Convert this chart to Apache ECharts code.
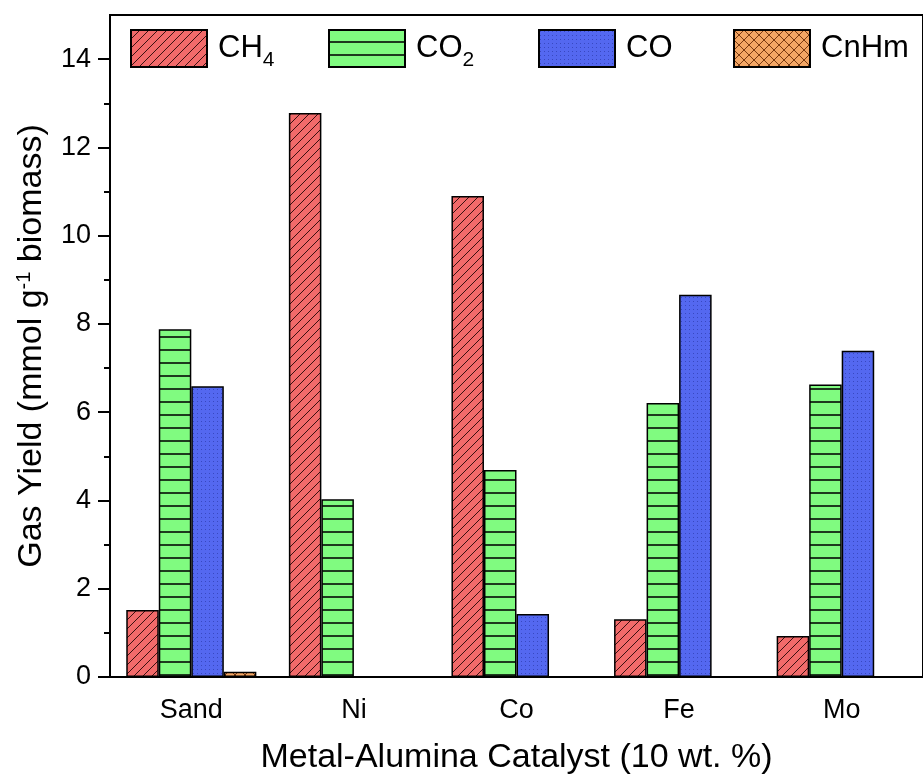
<!DOCTYPE html>
<html>
<head>
<meta charset="utf-8">
<script src="https://cdn.jsdelivr.net/npm/echarts@6/dist/echarts.min.js"></script>
<style>
html,body{margin:0;padding:0;background:#fff;}
#chart{width:923px;height:780px;}
</style>
</head>
<body>
<div id="chart"></div>
<script>
// ---- data ----
var categories = ['Sand', 'Ni', 'Co', 'Fe', 'Mo'];
var seriesNames = ['CH4', 'CO2', 'CO', 'CnHm'];
var ch4 = [1.52, 12.78, 10.9, 1.31, 0.93];
var co2 = [7.88, 4.03, 4.69, 6.21, 6.63];
var co = [6.59, 0, 1.43, 8.66, 7.39];
var cnhm = [0.12, 0, 0, 0, 0];
var yMajorTicks = [0, 2, 4, 6, 8, 10, 12, 14];
var yMinorTicks = [1, 3, 5, 7, 9, 11, 13];

var FONT = 'Liberation Sans, Arial, sans-serif';

function makePattern(w, h, draw) {
  var c = document.createElement('canvas');
  c.width = w; c.height = h;
  var ctx = c.getContext('2d');
  draw(ctx, w, h);
  return { image: c, repeat: 'repeat' };
}

var patCH4 = makePattern(9, 9, function (ctx, w, h) {
  ctx.fillStyle = '#f26a6a'; ctx.fillRect(0, 0, w, h);
  ctx.strokeStyle = '#3a1010'; ctx.lineWidth = 1;
  ctx.beginPath();
  ctx.moveTo(-1, h + 1); ctx.lineTo(w + 1, -1);
  ctx.moveTo(-1 - w, h + 1); ctx.lineTo(1, -1);
  ctx.moveTo(w - 1, 2 * h + 1); ctx.lineTo(2 * w + 1, h - 1);
  ctx.stroke();
});
var patCO2 = makePattern(4, 13, function (ctx, w, h) {
  ctx.fillStyle = '#80fb80'; ctx.fillRect(0, 0, w, h);
  ctx.fillStyle = '#1e3a1e'; ctx.fillRect(0, h - 2, w, 2);
});
var patCO = makePattern(4, 4, function (ctx, w, h) {
  ctx.fillStyle = '#5468f0'; ctx.fillRect(0, 0, w, h);
  ctx.fillStyle = '#3848c0'; ctx.fillRect(1, 1, 1, 1);
});
var patCnHm = makePattern(10, 10, function (ctx, w, h) {
  ctx.fillStyle = '#f3a664'; ctx.fillRect(0, 0, w, h);
  ctx.strokeStyle = '#7a3a10'; ctx.lineWidth = 1;
  ctx.beginPath();
  ctx.moveTo(0, 0); ctx.lineTo(w, h);
  ctx.moveTo(0, h); ctx.lineTo(w, 0);
  ctx.stroke();
});

var patterns = [patCH4, patCO2, patCO, patCnHm];
var values = [ch4, co2, co, cnhm];
var legendLefts = [130, 328, 538, 733];
var legendLabels = {
  'CH4': '{n|CH}{s|4}',
  'CO2': '{n|CO}{s|2}',
  'CO': '{n|CO}',
  'CnHm': '{n|CnHm}'
};

var chart = echarts.init(document.getElementById('chart'));

var legends = seriesNames.map(function (nm, i) {
  return {
    data: [nm],
    left: legendLefts[i],
    top: 29,
    padding: 0,
    icon: 'rect',
    itemWidth: 76,
    itemHeight: 37,
    selectedMode: false,
    formatter: function (name) { return legendLabels[name]; },
    textStyle: {
      color: '#000',
      fontFamily: FONT,
      fontSize: 31,
      padding: [0, 0, 0, 6],
      rich: {
        n: { fontSize: 31, fontFamily: FONT, color: '#000' },
        s: { fontSize: 21, fontFamily: FONT, color: '#000', padding: [24, 0, 0, 0] }
      }
    }
  };
});

var series = seriesNames.map(function (nm, i) {
  return {
    name: nm,
    type: 'bar',
    data: values[i],
    xAxisIndex: 0,
    yAxisIndex: 0,
    barGap: '0%',
    barCategoryGap: '20%',
    itemStyle: {
      color: patterns[i],
      borderColor: '#000',
      borderWidth: 1.5
    },
    emphasis: { disabled: true },
    animation: false
  };
});

var option = {
  backgroundColor: '#fff',
  animation: false,
  legend: legends,
  grid: {
    left: 110, top: 15, width: 820, height: 662,
    show: true, borderColor: '#000', borderWidth: 2,
    containLabel: false
  },
  xAxis: [{
    type: 'category',
    data: categories,
    position: 'bottom',
    boundaryGap: true,
    name: 'Metal-Alumina Catalyst (10 wt. %)',
    nameLocation: 'middle',
    nameGap: 64,
    nameTextStyle: { fontFamily: FONT, fontSize: 34, color: '#000' },
    axisLine: { lineStyle: { color: '#000', width: 2 } },
    axisTick: { alignWithLabel: true, length: 11, lineStyle: { color: '#000', width: 2 } },
    axisLabel: { fontFamily: FONT, fontSize: 27, color: '#000', margin: 20 },
    splitLine: { show: false }
  }, {
    type: 'category',
    data: categories,
    position: 'bottom',
    boundaryGap: true,
    axisLine: { show: false },
    axisTick: { alignWithLabel: false, length: 6, lineStyle: { color: '#000', width: 2 } },
    axisLabel: { show: false },
    splitLine: { show: false }
  }],
  yAxis: [{
    type: 'value',
    min: 0, max: 15,
    position: 'left',
    name: 'Gas Yield (mmol g{sup|-1} biomass)',
    nameLocation: 'middle',
    nameGap: 60,
    nameTextStyle: {
      fontFamily: FONT, fontSize: 34, color: '#000',
      rich: {
        sup: { fontFamily: FONT, fontSize: 20, color: '#000', padding: [0, 0, 16, 0] }
      }
    },
    axisLine: { show: true, lineStyle: { color: '#000', width: 2 } },
    axisTick: { show: true, customValues: yMajorTicks, length: 12, lineStyle: { color: '#000', width: 2 } },
    axisLabel: { customValues: yMajorTicks, fontFamily: FONT, fontSize: 27, color: '#000', margin: 19 },
    splitLine: { show: false }
  }, {
    type: 'value',
    min: 0, max: 15,
    position: 'left',
    axisLine: { show: false },
    axisTick: { show: true, customValues: yMinorTicks, length: 6, lineStyle: { color: '#000', width: 2 } },
    axisLabel: { show: false },
    splitLine: { show: false }
  }],
  series: series
};

chart.setOption(option);
</script>
</body>
</html>
